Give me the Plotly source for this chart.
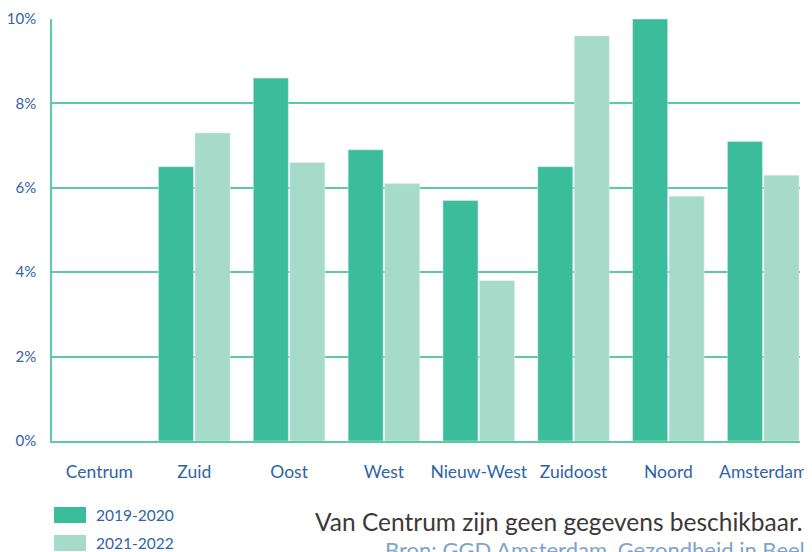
import plotly.graph_objects as go

# data (percentages)
districts = ["Centrum", "Zuid", "Oost", "West", "Nieuw-West", "Zuidoost", "Noord", "Amsterdam"]
period_a = "2019-2020"
period_b = "2021-2022"
values_a = [None, 6.5, 8.6, 6.9, 5.7, 6.5, 10.0, 7.1]
values_b = [None, 7.3, 6.6, 6.1, 3.8, 9.6, 5.8, 6.3]
y_ticks = [0, 2, 4, 6, 8, 10]

dark = "#3BBD9C"
light = "#A6DBC9"
blue = "#2F63A8"
grid = "#5CC9A7"
font = "Lato"

fig = go.Figure()
fig.add_trace(go.Bar(x=districts, y=values_a, name=period_a, marker_color=dark))
fig.add_trace(go.Bar(x=districts, y=values_b, name=period_b, marker_color=light))

fig.update_layout(
    width=830, height=552,
    margin=dict(l=44, r=38, t=11, b=119),
    plot_bgcolor="white", paper_bgcolor="white",
    barmode="group", bargap=0.23, bargroupgap=0.04,
    showlegend=False,
    font=dict(family=font, color=blue, size=17),
)
fig.update_yaxes(
    range=[0, 10], tickvals=y_ticks, ticktext=[f"{v}%" for v in y_ticks],
    showgrid=True, gridcolor=grid, gridwidth=1.5,
    showline=True, linecolor=grid, linewidth=1.5,
    zeroline=False, ticklabelstandoff=11, automargin=False,
    ticklabeloverflow="allow",
    tickfont=dict(size=15, color=blue),
)
fig.update_xaxes(
    range=[-0.5, 7.388],
    showline=True, linecolor=grid, linewidth=1.5,
    ticks="", ticklabelstandoff=14, automargin=False,
    tickfont=dict(size=17.5, color=blue),
)

# legend drawn as swatches + text
for i, (name, col) in enumerate([(period_a, dark), (period_b, light)]):
    y1 = -0.1564 - i * 0.0663
    fig.add_shape(type="rect", xref="paper", yref="paper",
                  x0=0.0027, x1=0.0455, y0=y1 - 0.0379, y1=y1,
                  fillcolor=col, line_width=0, layer="above")
    fig.add_annotation(text=name, xref="paper", yref="paper",
                       x=0.0565, y=y1 - 0.019, xanchor="left", yanchor="middle",
                       showarrow=False, font=dict(size=15.5, color=blue, family=font))

fig.add_annotation(text="Van Centrum zijn geen gegevens beschikbaar.",
                   xref="paper", yref="paper", x=0.349, y=-0.1896,
                   xanchor="left", yanchor="middle", showarrow=False,
                   font=dict(size=24.5, color="#3D3838", family=font))
fig.add_annotation(text="Bron: GGD Amsterdam, Gezondheid in Beeld",
                   xref="paper", yref="paper", x=0.4425, y=-0.256,
                   xanchor="left", yanchor="middle", showarrow=False,
                   font=dict(size=22, color="#7FA3CC", family=font))

fig.write_html("out.html")
